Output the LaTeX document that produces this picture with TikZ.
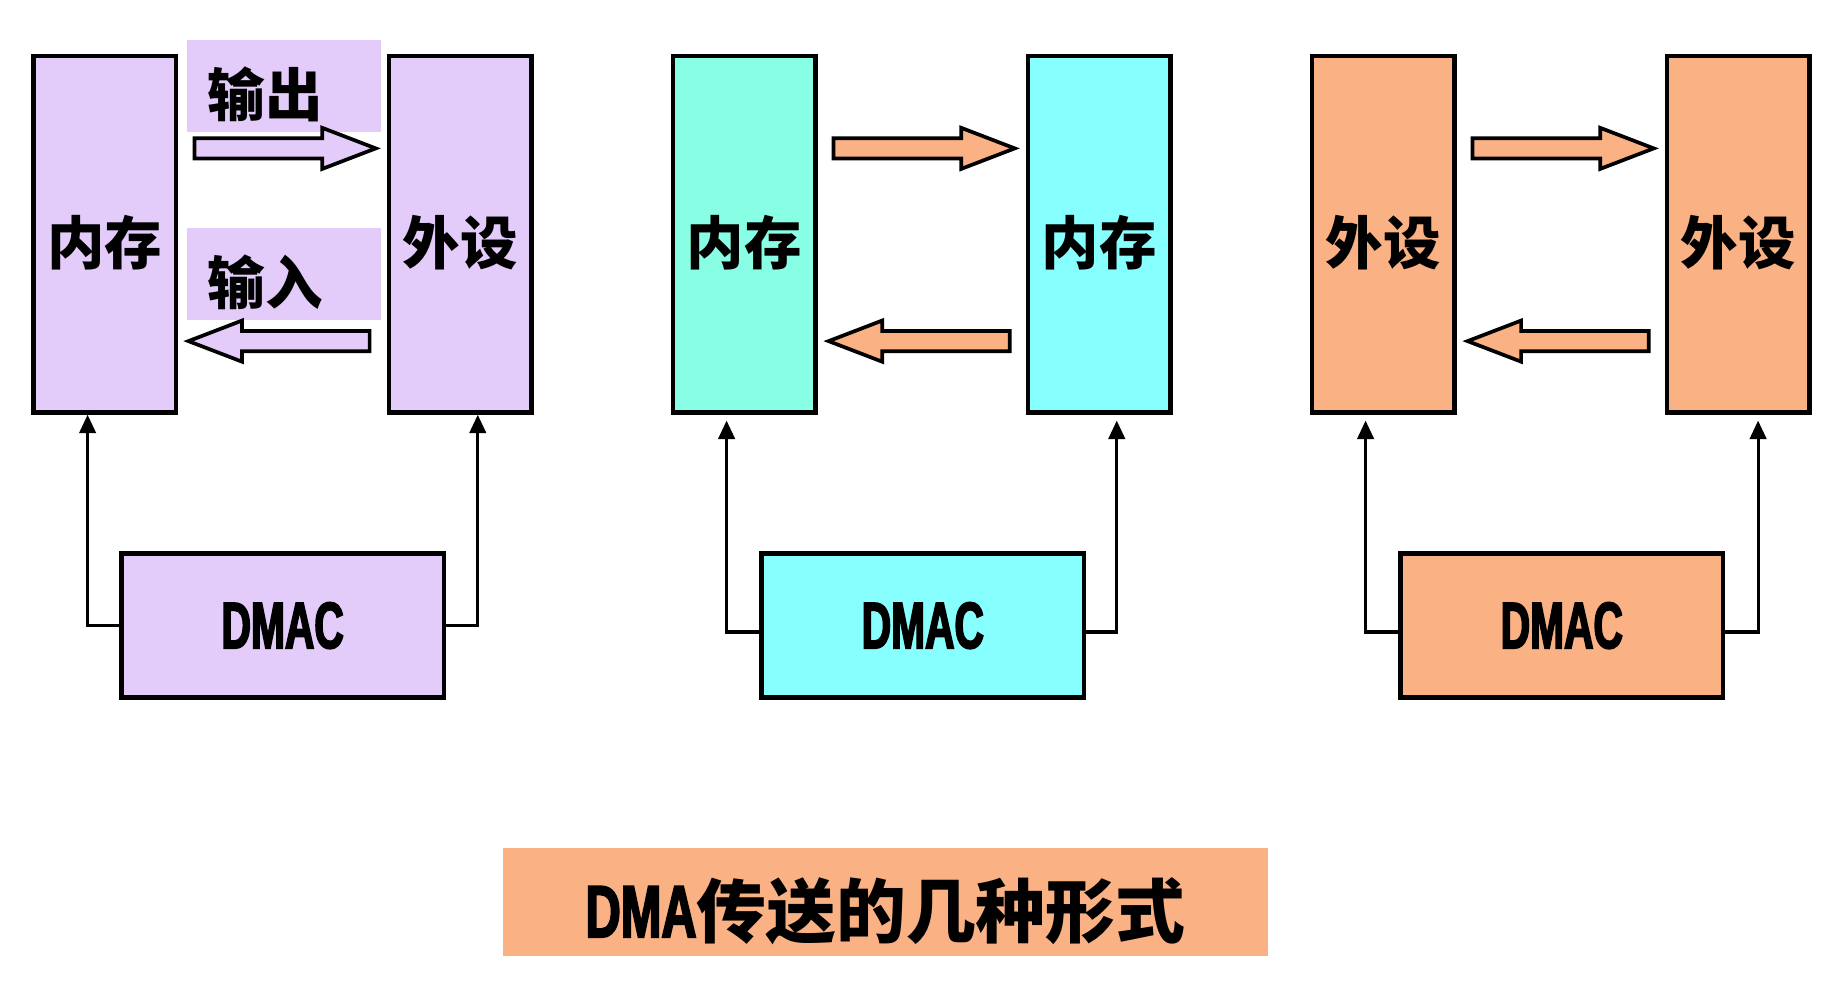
\documentclass[tikz,border=0pt]{standalone}
\usepackage{fontspec}
\setmainfont{Noto Sans CJK SC}
\newfontfamily\narrowfont{Liberation Sans}[FakeStretch=0.62,FakeBold=2.5]
\newfontfamily\titlefont{Liberation Sans}[FakeStretch=0.66,FakeBold=2.5]
\usetikzlibrary{shapes.arrows,arrows.meta}
\definecolor{lavender}{HTML}{E4CCFA}
\definecolor{mint}{HTML}{88FFE4}
\definecolor{skycyan}{HTML}{88FFFF}
\definecolor{peach}{HTML}{FAB284}
\begin{document}
\begin{tikzpicture}[x=0.01cm,y=-0.01cm,
  unit/.style={draw,line width=1.1pt,minimum width=1.22cm,minimum height=3.05cm,inner sep=0pt,text height=16pt,font=\bfseries\fontsize{14}{14}\selectfont},
  dmac/.style={draw,line width=1.1pt,minimum width=2.76cm,minimum height=1.23cm,font=\narrowfont\bfseries\fontsize{16}{16}\selectfont},
  tag/.style={fill=lavender,anchor=west,minimum height=0.79cm,inner xsep=0.18cm,inner ysep=0pt,text width=1.3cm,align=left,text height=16pt,font=\bfseries\fontsize{14}{14}\selectfont},
  flow/.style={single arrow,draw,line width=0.9pt,inner sep=0pt,text height=0.14cm,text depth=0pt,minimum height=1.55cm,single arrow head extend=0.09cm,single arrow tip angle=42,anchor=tail},
  up/.style={line width=0.75pt,-{Triangle[length=4.5pt,width=4pt]}}]

  \useasboundingbox (0,0) rectangle (1570,859);

  % memory <-> device
  \node[unit,fill=lavender] (mem1) at (89.5,200.5) {内存};
  \node[unit,fill=lavender] (dev1) at (394,200.5) {外设};
  \node[tag] (outtag) at (159,73.5) {输出};
  \node[tag] (intag) at (159,234.5) {输入};
  \node[flow,fill=lavender] (out1) at (165,127) {};
  \node[flow,fill=lavender,shape border rotate=180] (in1) at (318,292) {};
  \node[dmac,fill=lavender] (dmac1) at (242,535.5) {DMAC};

  % memory <-> memory
  \node[unit,fill=mint] (mem2a) at (637,200.5) {内存};
  \node[unit,fill=skycyan] (mem2b) at (941,200.5) {内存};
  \node[flow,fill=peach] (out2) at (712,127) {};
  \node[flow,fill=peach,shape border rotate=180] (in2) at (866,292) {};
  \node[dmac,fill=skycyan] (dmac2) at (790,535.5) {DMAC};

  % device <-> device
  \node[unit,fill=peach] (dev3a) at (1184,200.5) {外设};
  \node[unit,fill=peach] (dev3b) at (1488,200.5) {外设};
  \node[flow,fill=peach] (out3) at (1259,127) {};
  \node[flow,fill=peach,shape border rotate=180] (in3) at (1413,292) {};
  \node[dmac,fill=peach] (dmac3) at (1337,535.5) {DMAC};

  \coordinate (t1a) at (75,355);
  \coordinate (t1b) at (409,355);
  \coordinate (t2a) at (622,360);
  \coordinate (t2b) at (956,360);
  \coordinate (t3a) at (1169,360);
  \coordinate (t3b) at (1505,360);
  \coordinate (j2) at (0,541);

  \draw[up] (dmac1.west) -| (t1a);
  \draw[up] (dmac1.east) -| (t1b);
  \draw[up] (dmac2.west |- j2) -| (t2a);
  \draw[up] (dmac2.east |- j2) -| (t2b);
  \draw[up] (dmac3.west |- j2) -| (t3a);
  \draw[up] (dmac3.east |- j2) -| (t3b);

  \node[fill=peach,minimum width=6.54cm,minimum height=0.92cm,inner ysep=0pt,text height=19pt,font=\bfseries\fontsize{17}{17}\selectfont] (title) at (758,772)
    {{\titlefont\fontsize{18}{18}\selectfont DMA}传送的几种形式};
\end{tikzpicture}
\end{document}
